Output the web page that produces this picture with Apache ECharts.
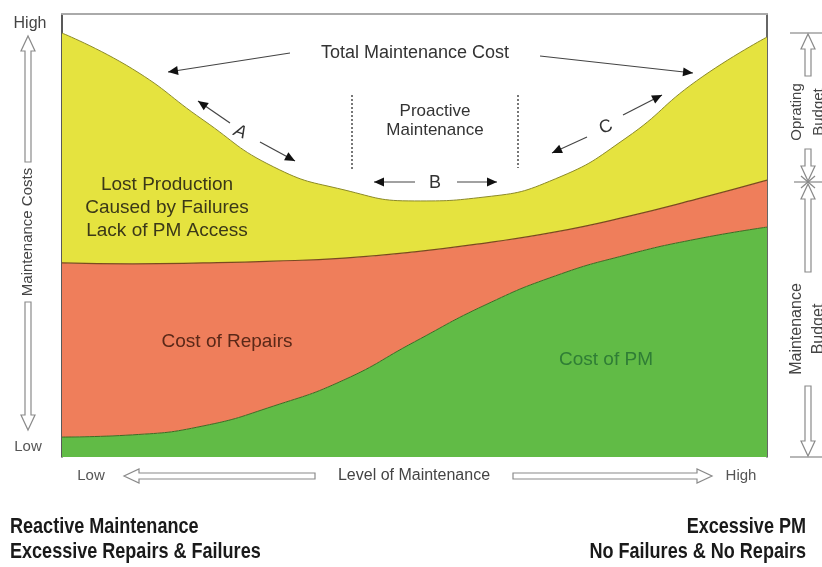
<!DOCTYPE html>
<html>
<head>
<meta charset="utf-8">
<script src="https://cdn.jsdelivr.net/npm/echarts@6/dist/echarts.min.js"></script>
<style>
  html, body { margin: 0; background: #fff; }
  #chart { width: 822px; height: 567px; }
</style>
</head>
<body>
<div id="chart"></div>
<script>
// level of maintenance, 0 = low .. 100 = high
const levels = ['0', '10', '20', '30', '40', '50', '60', '70', '80', '90', '100'];
// stacked pieces of the maintenance cost (0..100 scale)
const pmCost = [4.5, 5.0, 7.0, 11.5, 17.4, 26.0, 34.3, 40.9, 45.6, 49.2, 51.9];
const repairCost = [39.3, 38.6, 36.8, 32.7, 27.5, 20.3, 14.0, 9.9, 8.6, 9.0, 10.6];
const lostProduction = [51.9, 44.0, 32.3, 21.3, 15.4, 11.5, 10.4, 12.0, 17.8, 26.7, 32.3];

const FONT = "'Liberation Sans', Arial, sans-serif";

// small black arrow head, tip at (x2,y2)
function head(x1, y1, x2, y2) {
  const dx = x2 - x1, dy = y2 - y1, L = Math.hypot(dx, dy);
  const ux = dx / L, uy = dy / L, len = 10, half = 4.5;
  const bx = x2 - ux * len, by = y2 - uy * len;
  return {
    type: 'polygon', z: 100,
    shape: { points: [[x2, y2], [bx - uy * half, by + ux * half], [bx + uy * half, by - ux * half]] },
    style: { fill: '#111' }
  };
}
function arrow(x1, y1, x2, y2) {
  return [
    { type: 'line', z: 100, shape: { x1, y1, x2, y2 }, style: { stroke: '#444', lineWidth: 1.2 } },
    head(x1, y1, x2, y2)
  ];
}
// hollow block arrow, flat end at (x1,y1), tip at (x2,y2)
function hollow(x1, y1, x2, y2) {
  const dx = x2 - x1, dy = y2 - y1, L = Math.hypot(dx, dy);
  const ux = dx / L, uy = dy / L, nx = -uy, ny = ux;
  const sw = 3, hw = 7, hl = 15;
  const bx = x2 - ux * hl, by = y2 - uy * hl;
  return {
    type: 'polygon', z: 100,
    shape: { points: [
      [x1 + nx * sw, y1 + ny * sw], [bx + nx * sw, by + ny * sw], [bx + nx * hw, by + ny * hw],
      [x2, y2],
      [bx - nx * hw, by - ny * hw], [bx - nx * sw, by - ny * sw], [x1 - nx * sw, y1 - ny * sw]
    ] },
    style: { fill: '#fff', stroke: '#8a8a8a', lineWidth: 1.2 }
  };
}
function txt(x, y, text, size, color, extra) {
  return Object.assign({
    type: 'text', z: 100, x, y,
    style: { text, fontSize: size, fontFamily: FONT, fill: color, align: 'center', verticalAlign: 'middle' }
  }, extra || {});
}
function seg(x1, y1, x2, y2, color, w, dash) {
  return { type: 'line', z: 100, shape: { x1, y1, x2, y2 },
    style: { stroke: color, lineWidth: w, lineDash: dash || null } };
}
// bold caption, squeezed to look like a narrow font
function caption(x, y, text, align) {
  return { type: 'text', z: 100, x, y, scaleX: 0.82,
    style: { text, fontSize: 22, fontWeight: 'bold', fontFamily: FONT, fill: '#1a1a1a', align, verticalAlign: 'middle' } };
}

const graphics = [].concat(
  // annotations inside the plot
  txt(415, 53, 'Total Maintenance Cost', 18, '#333'),
  arrow(290, 53, 168, 72),
  arrow(540, 56, 693, 73),
  txt(435, 111, 'Proactive', 17, '#333'),
  txt(435, 130, 'Maintenance', 17, '#333'),
  seg(352, 95, 352, 170, '#777', 2, [2, 2]),
  seg(518, 95, 518, 168, '#777', 2, [2, 2]),
  arrow(230, 123, 198, 101),
  arrow(260, 142, 295, 161),
  { type: 'text', z: 100, x: 240, y: 132, rotation: -0.35,
    style: { text: 'A', fontSize: 18, fontStyle: 'italic', fontFamily: FONT, fill: '#333', align: 'center', verticalAlign: 'middle' } },
  arrow(415, 182, 374, 182),
  arrow(457, 182, 497, 182),
  txt(435, 183, 'B', 18, '#333'),
  arrow(623, 115, 662, 95),
  arrow(587, 137, 552, 153),
  txt(606, 127, 'C', 18, '#333', { rotation: 0.35 }),
  txt(167, 185, 'Lost Production', 19, '#3b3818'),
  txt(167, 208, 'Caused by Failures', 19, '#3b3818'),
  txt(167, 231, 'Lack of PM Access', 19, '#3b3818'),
  txt(227, 342, 'Cost of Repairs', 19, '#5a2818'),
  txt(606, 360, 'Cost of PM', 19, '#2f7d35'),
  // vertical cost scale
  txt(30, 24, 'High', 16, '#444'),
  txt(28, 447, 'Low', 15, '#555'),
  hollow(28, 162, 28, 36),
  hollow(28, 302, 28, 430),
  txt(28, 232, 'Maintenance Costs', 15, '#444', { rotation: Math.PI / 2 }),
  // horizontal level scale
  txt(91, 476, 'Low', 15, '#555'),
  hollow(315, 476, 124, 476),
  txt(414, 476, 'Level of Maintenance', 16, '#444'),
  hollow(513, 476, 712, 476),
  txt(741, 476, 'High', 15, '#555'),
  // budgets on the right
  seg(790, 33, 822, 33, '#888', 1.2),
  seg(790, 457, 822, 457, '#888', 1.2),
  seg(794, 182, 822, 182, '#888', 1.2),
  seg(801, 176, 815, 188, '#888', 1.2),
  seg(801, 188, 815, 176, '#888', 1.2),
  hollow(808, 76, 808, 34),
  hollow(808, 149, 808, 181),
  hollow(808, 272, 808, 184),
  hollow(808, 386, 808, 456),
  txt(797, 112, 'Oprating', 15, '#444', { rotation: Math.PI / 2 }),
  txt(819, 112, 'Budget', 15, '#444', { rotation: Math.PI / 2 }),
  txt(797, 329, 'Maintenance', 16, '#444', { rotation: Math.PI / 2 }),
  txt(819, 329, 'Budget', 16, '#444', { rotation: Math.PI / 2 }),
  // bottom captions
  caption(10, 527, 'Reactive Maintenance', 'left'),
  caption(10, 552, 'Excessive Repairs & Failures', 'left'),
  caption(806, 527, 'Excessive PM', 'right'),
  caption(806, 552, 'No Failures & No Repairs', 'right')
);

const chart = echarts.init(document.getElementById('chart'));
const hidden = { axisLabel: { show: false }, axisTick: { show: false }, splitLine: { show: false } };

chart.setOption({
  animation: false,
  backgroundColor: '#fff',
  grid: { left: 62, right: 55, top: 14, bottom: 110 },
  xAxis: Object.assign({
    type: 'category', data: levels, boundaryGap: false, position: 'top',
    axisLine: { show: true, onZero: false, lineStyle: { color: '#aaa', width: 2 } }
  }, hidden),
  yAxis: [
    Object.assign({ type: 'value', min: 0, max: 100, position: 'left',
      axisLine: { show: true, lineStyle: { color: '#222', width: 1.5 } } }, hidden),
    Object.assign({ type: 'value', min: 0, max: 100, position: 'right',
      axisLine: { show: true, lineStyle: { color: '#333', width: 1.5 } } }, hidden)
  ],
  series: [
    {
      name: 'Cost of PM', type: 'line', stack: 'cost', smooth: true, symbol: 'none',
      data: pmCost,
      lineStyle: { color: '#3d6a22', width: 1 },
      areaStyle: { color: '#61bb46', opacity: 1 }
    },
    {
      name: 'Cost of Repairs', type: 'line', stack: 'cost', smooth: true, symbol: 'none',
      data: repairCost,
      lineStyle: { color: '#7a4a20', width: 1.2 },
      areaStyle: { color: '#ef7e5b', opacity: 1 }
    },
    {
      name: 'Lost Production', type: 'line', stack: 'cost', smooth: true, symbol: 'none',
      data: lostProduction,
      lineStyle: { color: '#8c8a2a', width: 1 },
      areaStyle: { color: '#e5e33f', opacity: 1 }
    }
  ],
  graphic: graphics
});
</script>
</body>
</html>
